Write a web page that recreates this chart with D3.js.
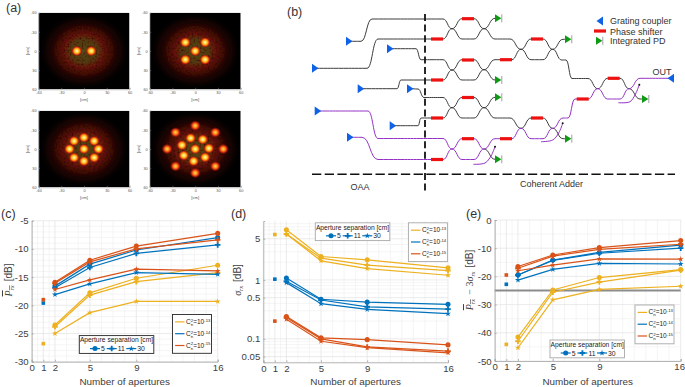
<!DOCTYPE html>
<html>
<head>
<meta charset="utf-8">
<script src="https://cdn.jsdelivr.net/npm/d3@7"></script>
<style>
  html, body { margin: 0; padding: 0; background: #fff; }
  svg { display: block; font-family: "Liberation Sans", Arial, sans-serif; }
  .grid-major { stroke: #e2e2e2; stroke-width: 0.7; }
  .grid-minor { stroke: #efefef; stroke-width: 0.6; }
</style>
</head>
<body>
<svg id="fig" width="685" height="387"></svg>
<script>
// ---- data: beam spots, panel (a), in cm
var spotTicks = [-60, -30, 0, 30, 60];
var spotsTwo = [[-9.5, 0], [9.5, 0]];
var spotsFive = [[0, 0], [-13, -13.5], [13, -13.5], [-13, 13.5], [13, 13.5]];
var spotsNine = [[0, 0], [0, -18], [13.5, -12.5], [19, 0], [13.5, 13.5], [0, 19], [-13, 13.5], [-19, 0], [-13, -12.5]];
var spotsInner = [[0, 0], [-6, -17], [10, -15], [18, -1], [13, 13], [-2, 19], [-15, 10], [-17.5, -6]];
var spotsOuter = [[0, -36.5], [26.5, -26], [37, 0], [26.5, 27], [0, 37.5], [-26, 27], [-37, 0], [-26, -26]];

// ---- data: curves, panels (c) (d) (e)
var apertures = [2, 5, 9, 16];
var xTicks = [0, 1, 2, 5, 9, 16];
var separations = ['5', '11', '30'];
var turbulence = ['-13', '-14', '-15'];

var powerStrong = [[-23.5, -17.8, -15.2, -12.9], [-23.8, -18.2, -15.8, -14.2], [-25, -21.3, -19.3, -19.3]];
var powerMedium = [[-16.6, -12.7, -10.2, -8.0], [-16.9, -13.3, -10.8, -9.3], [-18.1, -16.2, -14.2, -14.5]];
var powerWeak = [[-15.9, -12, -9.5, -7.25], [-16.1, -12.3, -10, -8.4], [-17.2, -15.5, -13.6, -13.9]];
var powerSingle = [-26.8, -19.6, -19];

var sigmaStrong = [[7.1, 2.5, 2.19, 1.6], [6, 2.34, 1.78, 1.44], [6, 2.11, 1.56, 1.2]];
var sigmaMedium = [[1.08, 0.47, 0.42, 0.385], [0.95, 0.456, 0.35, 0.32], [0.9, 0.395, 0.316, 0.267]];
var sigmaWeak = [[0.24, 0.104, 0.097, 0.079], [0.23, 0.1, 0.073, 0.062], [0.216, 0.091, 0.071, 0.058]];
var sigmaSingle = [5.9, 1.03, 0.2];

var marginStrong = [[-41.5, -24.8, -20.4, -17.6], [-43, -25.6, -22, -17.8], [-45.3, -28.3, -24.6, -23.5]];
var marginMedium = [[-19.5, -14.2, -11.5, -8.9], [-19.5, -14.3, -11.8, -10], [-21.3, -17.5, -15.4, -15.6]];
var marginWeak = [[-16.5, -12.4, -9.8, -7.3], [-17.1, -12.8, -10.4, -8.6], [-18, -16, -13.8, -13.9]];
var marginSingle = [-44.1, -22.8, -19.5];
var marginLimit = -25;

// ---- data: photonic circuit, panel (b), in diagram units
var inCouplers = [[349, 41.3], [315, 68.3], [390, 48.7], [360.7, 88.7], [410, 88.7], [317.7, 111], [350, 137.3], [392.7, 125.7]];
var outCoupler = [[671, 78.3]];
var shifters = [[431, 39], [431, 80], [431, 118], [431, 159.5], [462, 18.7], [462, 60], [462, 97.5], [462, 138.7],
  [500, 59.7], [500, 138.7], [531, 39], [531, 118], [576.7, 99], [607.7, 78.3]];
var detectors = [[498, 18.3], [498, 80], [498, 97.3], [498, 159.3], [568, 39.3], [568, 138.7], [645, 99]];
var darkRoutes = [
  [[349, 41.3], [361, 41.3], [372, 19], [443, 19], [452, 28.7], [462, 39], [474, 39], [484, 28.7], [495, 18.3], [498, 18.3]],
  [[315, 68.3], [367, 68.3], [378, 39], [443, 39], [452, 28.7], [462, 18.7], [474, 18.7], [484, 28.7], [495, 39], [510, 39],
    [521, 49.3], [531, 59.7], [543, 59.7], [552.7, 49.3], [561.7, 60], [566, 60], [572, 78.5], [588, 78.5], [597.7, 88.7],
    [607.7, 78.3], [620, 78.3], [629, 88.7], [640, 99], [645, 99]],
  [[390, 48.7], [416, 48.7], [421, 59.7], [443, 59.7], [452, 70], [462, 80], [474, 80], [484, 69.7], [495, 80], [498, 80]],
  [[360.7, 88.7], [397, 88.7], [401, 80], [443, 80], [452, 70], [462, 59.7], [474, 59.7], [484, 69.7], [495, 59.7], [511.7, 59.7],
    [521, 49.3], [531, 39], [543, 39], [552.7, 49.3], [563, 39.3], [568, 39.3]],
  [[410, 88.7], [418, 89], [424, 97.5], [443, 97.5], [452, 107.7], [462, 118], [474, 118], [484, 107.7], [495, 97.3], [498, 97.3]],
  [[392.7, 125.7], [418, 125.7], [421, 118], [443, 118], [452, 107.7], [462, 97.5], [474, 97.5], [484, 107.7], [495, 118], [510, 118],
    [521, 128.3], [531, 118], [543, 118], [552.7, 128.3], [563, 138.7], [568, 138.7]],
  [[484, 149], [495, 159.3], [498, 159.3]]
];
var purpleRoutes = [
  [[317.7, 111], [368, 111], [378, 138.5], [443, 138.5], [452, 149], [462, 159.5], [474, 159.5], [484, 149]],
  [[350, 137.3], [362, 137.3], [378, 159.5], [443, 159.5], [452, 149], [462, 138.7], [474, 138.7], [484, 149], [495, 138.7], [511.7, 138.7],
    [521, 128.3], [531, 138.7], [543, 138.7], [552.7, 128.3], [563, 118], [568, 118], [575, 99], [588, 99], [597.7, 88.7],
    [607.7, 99], [620, 99], [629, 88.7], [640, 78.3], [671, 78.3]]
];
var tapCurves = [
  [[473.3, 164.3], [485, 163], [491, 156], [495, 146.7]],
  [[541, 141.7], [552.7, 140], [558.7, 133], [562.7, 123.3]],
  [[618.3, 102.7], [630, 101.7], [635.5, 94], [639.3, 84.7]]
];

// ---- palette
var yellow = '#EDB120', blue = '#0072BD', orange = '#D95319';
var seriesColors = [yellow, blue, orange];
var textColor = '#404040';

var svg = d3.select('#fig');
var defs = svg.append('defs');

function addGradient(id, stops) {
  var g = defs.append('radialGradient').attr('id', id);
  stops.forEach(function (s) {
    g.append('stop').attr('offset', s[0]).attr('stop-color', s[1]).attr('stop-opacity', s[2]);
  });
}

addGradient('glow-red', [[0, '#7a1a0a', 1], [0.55, '#6a140a', 0.95], [0.8, '#3c0a06', 0.75], [1, '#000', 0]]);
addGradient('glow-green', [[0, '#46581a', 0.85], [0.65, '#424a10', 0.7], [1, '#6a140a', 0]]);
addGradient('spot-hot', [[0, '#fffbd0', 1], [0.25, '#ffe050', 1], [0.5, '#ff9a10', 1], [0.72, '#e03010', 0.85], [1, '#800000', 0]]);
addGradient('spot-warm', [[0, '#ffd860', 1], [0.3, '#ff9a20', 1], [0.58, '#e83a12', 0.95], [1, '#800000', 0]]);

var speckle = defs.append('filter').attr('id', 'speckle').attr('x', 0).attr('y', 0).attr('width', 1).attr('height', 1);
speckle.append('feTurbulence').attr('type', 'fractalNoise').attr('baseFrequency', 0.5).attr('numOctaves', 2).attr('seed', 4).attr('result', 'n');
speckle.append('feColorMatrix').attr('in', 'n').attr('type', 'matrix')
  .attr('values', '0 0 0 0 0  0 0 0 0 0  0 0 0 0 0  0 0 0 2.4 -0.35').attr('result', 'a');
speckle.append('feComposite').attr('in', 'SourceGraphic').attr('in2', 'a').attr('operator', 'in');

function panelLabel(text, x, y) {
  svg.append('text').attr('x', x).attr('y', y).attr('font-size', 12.5).attr('fill', '#333').text(text);
}

// ---- panel (a)
function drawBeam(id, box, hot, warm) {
  var x = d3.scaleLinear().domain([-60, 60]).range([box.x, box.x + 91]);
  var y = d3.scaleLinear().domain([-60, 60]).range([box.y, box.y + 76.6]);
  var g = svg.append('g');

  defs.append('clipPath').attr('id', id).append('rect')
    .attr('x', box.x).attr('y', box.y).attr('width', 91).attr('height', 76.6);

  var plot = g.append('g').attr('clip-path', 'url(#' + id + ')');
  plot.append('rect').attr('x', box.x).attr('y', box.y).attr('width', 91).attr('height', 76.6).attr('fill', '#000');

  var rx = function (cm) { return x(cm) - x(0); };
  var ry = function (cm) { return y(cm) - y(0); };

  plot.append('ellipse').attr('cx', x(0)).attr('cy', y(0)).attr('rx', rx(60)).attr('ry', ry(60)).attr('fill', 'url(#glow-red)').attr('opacity', 0.5);
  plot.append('ellipse').attr('cx', x(0)).attr('cy', y(0)).attr('rx', rx(48)).attr('ry', ry(48)).attr('fill', 'url(#glow-red)').attr('filter', 'url(#speckle)');
  plot.append('ellipse').attr('cx', x(0)).attr('cy', y(0)).attr('rx', rx(29)).attr('ry', ry(29)).attr('fill', 'url(#glow-green)').attr('filter', 'url(#speckle)');

  plot.selectAll('.hot').data(hot).enter().append('ellipse').attr('class', 'hot')
    .attr('cx', function (d) { return x(d[0]); }).attr('cy', function (d) { return y(d[1]); })
    .attr('rx', rx(7.5)).attr('ry', ry(8.5)).attr('fill', 'url(#spot-hot)');
  plot.selectAll('.warm').data(warm).enter().append('ellipse').attr('class', 'warm')
    .attr('cx', function (d) { return x(d[0]); }).attr('cy', function (d) { return y(d[1]); })
    .attr('rx', rx(7.5)).attr('ry', ry(8.5)).attr('fill', 'url(#spot-warm)');

  var xAxis = d3.axisBottom(x).tickValues(spotTicks).tickSize(-1.5).tickPadding(2).tickFormat(String);
  var yAxis = d3.axisLeft(y).tickValues(spotTicks).tickSize(-1.5).tickPadding(2).tickFormat(String);
  var ax = g.append('g').attr('transform', 'translate(0,' + (box.y + 76.6) + ')').call(xAxis);
  var ay = g.append('g').attr('transform', 'translate(' + box.x + ',0)').call(yAxis);
  [ax, ay].forEach(function (a) {
    a.selectAll('text').attr('font-size', 3.8).attr('fill', '#555').attr('font-family', 'inherit');
    a.selectAll('path,line').attr('stroke', '#888').attr('stroke-width', 0.5);
  });
  g.append('text').attr('x', x(0)).attr('y', box.y + 76.6 + 12).attr('text-anchor', 'middle')
    .attr('font-size', 4.2).attr('fill', '#555').text('[cm]');
  g.append('text').attr('transform', 'translate(' + (box.x - 10) + ',' + y(0) + ') rotate(-90)')
    .attr('text-anchor', 'middle').attr('font-size', 4.2).attr('fill', '#555').text('[cm]');
}

drawBeam('beam-1', { x: 38.5, y: 12.7 }, spotsTwo, []);
drawBeam('beam-2', { x: 149.7, y: 12.7 }, spotsFive, []);
drawBeam('beam-3', { x: 38.5, y: 110.7 }, spotsNine, []);
drawBeam('beam-4', { x: 149.7, y: 110.7 }, spotsInner, spotsOuter);
panelLabel('(a)', 6, 11.5);

// ---- panel (b)
var schemX = d3.scaleIdentity(), schemY = d3.scaleIdentity();
var route = d3.line().x(function (d) { return schemX(d[0]); }).y(function (d) { return schemY(d[1]); }).curve(d3.curveBumpX);
var tap = d3.line().x(function (d) { return schemX(d[0]); }).y(function (d) { return schemY(d[1]); }).curve(d3.curveCatmullRom);

var schem = svg.append('g');

schem.selectAll('.dark').data(darkRoutes).enter().append('path').attr('class', 'dark')
  .attr('d', route).attr('fill', 'none').attr('stroke', '#3c3c3c').attr('stroke-width', 1);
schem.selectAll('.purple').data(purpleRoutes).enter().append('path').attr('class', 'purple')
  .attr('d', route).attr('fill', 'none').attr('stroke', '#9432c4').attr('stroke-width', 1);
schem.selectAll('.tap').data(tapCurves).enter().append('path').attr('class', 'tap')
  .attr('d', tap).attr('fill', 'none').attr('stroke', '#9432c4').attr('stroke-width', 1);
schem.selectAll('.tapEnd').data(tapCurves).enter().append('circle').attr('class', 'tapEnd')
  .attr('cx', function (d) { return schemX(d[3][0]); }).attr('cy', function (d) { return schemY(d[3][1]); })
  .attr('r', 1).attr('fill', '#111');

schem.append('line').attr('x1', 425).attr('x2', 425).attr('y1', 14).attr('y2', 193)
  .attr('stroke', '#111').attr('stroke-width', 1.8).attr('stroke-dasharray', '7,3.6');
schem.append('line').attr('x1', 312).attr('x2', 675).attr('y1', 174.3).attr('y2', 174.3)
  .attr('stroke', '#111').attr('stroke-width', 1.5).attr('stroke-dasharray', '9.3,3.4');

function coupler(sel, pts, dir) {
  sel.selectAll(null).data(pts).enter().append('path')
    .attr('transform', function (d) { return 'translate(' + schemX(d[0]) + ',' + schemY(d[1]) + ')'; })
    .attr('d', dir > 0 ? 'M-3,-4.5L3.5,0L-3,4.5Z' : 'M3,-4.5L-3.5,0L3,4.5Z')
    .attr('fill', '#0f62e6');
}
function phase(sel, pts) {
  sel.selectAll(null).data(pts).enter().append('rect')
    .attr('x', function (d) { return schemX(d[0]); }).attr('y', function (d) { return schemY(d[1]) - 1.6; })
    .attr('width', 12).attr('height', 3.2).attr('fill', '#ee1111');
}
function detector(sel, pts) {
  var g = sel.selectAll(null).data(pts).enter().append('g')
    .attr('transform', function (d) { return 'translate(' + schemX(d[0]) + ',' + schemY(d[1]) + ')'; });
  g.append('path').attr('d', 'M-3,-4L3.4,0L-3,4Z').attr('fill', '#0f9a14');
  g.append('line').attr('x1', 3.8).attr('x2', 3.8).attr('y1', -4).attr('y2', 4).attr('stroke', '#777').attr('stroke-width', 0.7);
}

coupler(schem, inCouplers, 1);
coupler(schem, outCoupler, -1);
phase(schem, shifters);
detector(schem, detectors);

coupler(schem, [[600, 21]], -1);
phase(schem, [[594, 31]]);
detector(schem, [[599, 40.7]]);

var schemText = [['Grating coupler', 610, 24], ['Phase shifter', 610, 34.5], ['Integrated PD', 610, 43.5],
  ['OUT', 652.5, 74.5], ['OAA', 350.5, 190], ['Coherent Adder', 520, 187]];
schem.selectAll('.lbl').data(schemText).enter().append('text').attr('class', 'lbl')
  .attr('x', function (d) { return d[1]; }).attr('y', function (d) { return d[2]; })
  .attr('font-size', 9).attr('fill', '#333').text(function (d) { return d[0]; });
panelLabel('(b)', 287, 16);

// ---- panels (c) (d) (e)
var markers = [
  d3.symbol().type(d3.symbolCircle).size(20),
  d3.symbol().type(d3.symbolCross).size(17),
  d3.symbol().type(d3.symbolStar).size(11)
];
var minorX = [0.5, 1.5, 3, 4, 6, 7, 8, 10, 11, 12, 13, 14, 15];

function drawCurves(opts) {
  var x = d3.scaleLinear().domain([0, 16]).range(opts.xRange);
  var y = opts.log ? d3.scaleLog().domain(opts.yDomain).range(opts.yRange)
    : d3.scaleLinear().domain(opts.yDomain).range(opts.yRange);
  var g = svg.append('g');

  g.selectAll('.mx').data(minorX).enter().append('line').attr('class', 'grid-minor')
    .attr('x1', x).attr('x2', x).attr('y1', opts.yRange[0]).attr('y2', opts.yRange[1]);
  g.selectAll('.my').data(opts.minorY).enter().append('line').attr('class', 'grid-minor')
    .attr('y1', y).attr('y2', y).attr('x1', opts.xRange[0]).attr('x2', opts.xRange[1]);
  g.selectAll('.gx').data(xTicks).enter().append('line').attr('class', 'grid-major')
    .attr('x1', x).attr('x2', x).attr('y1', opts.yRange[0]).attr('y2', opts.yRange[1]);
  g.selectAll('.gy').data(opts.yTicks).enter().append('line').attr('class', 'grid-major')
    .attr('y1', y).attr('y2', y).attr('x1', opts.xRange[0]).attr('x2', opts.xRange[1]);

  if (opts.limit !== undefined) {
    g.append('line').attr('x1', opts.xRange[0]).attr('x2', opts.xRange[1])
      .attr('y1', y(opts.limit)).attr('y2', y(opts.limit)).attr('stroke', '#8c8c8c').attr('stroke-width', 1.8);
  }

  var line = d3.line().x(function (d, i) { return x(apertures[i]); }).y(function (d) { return y(d); });

  opts.series.forEach(function (group, c) {
    group.forEach(function (vals, s) {
      g.append('path').attr('d', line(vals)).attr('fill', 'none').attr('stroke', seriesColors[c]).attr('stroke-width', 1.2);
      g.selectAll(null).data(vals).enter().append('path')
        .attr('transform', function (d, i) { return 'translate(' + x(apertures[i]) + ',' + y(d) + ')'; })
        .attr('d', markers[s]()).attr('fill', seriesColors[c]);
    });
    g.append('rect').attr('x', x(1) - 1.8).attr('y', y(opts.single[c]) - 1.8)
      .attr('width', 3.6).attr('height', 3.6).attr('fill', seriesColors[c]);
  });

  var ax = g.append('g').attr('transform', 'translate(0,' + opts.yRange[0] + ')')
    .call(d3.axisBottom(x).tickValues(xTicks).tickSize(-2).tickPadding(2.5).tickFormat(String));
  var ay = g.append('g').attr('transform', 'translate(' + opts.xRange[0] + ',0)')
    .call(d3.axisLeft(y).tickValues(opts.yTicks).tickSize(-2).tickPadding(3).tickFormat(String));
  [ax, ay].forEach(function (a) {
    a.selectAll('text').attr('font-size', 9.6).attr('fill', textColor).attr('font-family', 'inherit');
    a.selectAll('path,line').attr('stroke', '#a4a4a4').attr('stroke-width', 0.8);
  });
  // keep the last tick label of the rightmost panel inside the window
  if (opts.lastTickShift) {
    ax.selectAll('text').filter(function (d) { return d === 16; }).attr('dx', opts.lastTickShift);
  }

  g.append('text').attr('x', (opts.xRange[0] + opts.xRange[1]) / 2).attr('y', 385)
    .attr('text-anchor', 'middle').attr('font-size', 9.9).attr('fill', textColor).text('Number of apertures');

  var title = g.append('text').attr('transform', 'translate(' + opts.titleX + ',280) rotate(-90)')
    .attr('text-anchor', 'middle').attr('font-size', 10).attr('fill', textColor);
  opts.title(title);

  sepLegend(g, opts.sepLegend.x, opts.sepLegend.y, opts.legendBorder);
  turbLegend(g, opts.turbLegend.x, opts.turbLegend.y, opts.legendBorder);
}

function sepLegend(parent, x0, y0, border) {
  var g = parent.append('g').attr('transform', 'translate(' + x0 + ',' + y0 + ')');
  g.append('rect').attr('width', 74.5).attr('height', 17.8).attr('fill', '#fff').attr('stroke', border).attr('stroke-width', 0.9);
  g.append('text').attr('x', 37.2).attr('y', 6.8).attr('text-anchor', 'middle').attr('font-size', 6.7)
    .attr('fill', '#222').text('Aperture separation [cm]');
  var items = [[15.7, 0], [32.4, 1], [52, 2]];
  items.forEach(function (it) {
    g.append('line').attr('x1', it[0] - 5).attr('x2', it[0] + 5).attr('y1', 13).attr('y2', 13).attr('stroke', blue).attr('stroke-width', 1.2);
    g.append('path').attr('transform', 'translate(' + it[0] + ',13)').attr('d', markers[it[1]]()).attr('fill', blue);
    g.append('text').attr('x', it[0] + 6).attr('y', 15.5).attr('font-size', 6.8).attr('fill', '#222').text(separations[it[1]]);
  });
}

function turbLegend(parent, x0, y0, border) {
  var g = parent.append('g').attr('transform', 'translate(' + x0 + ',' + y0 + ')');
  g.append('rect').attr('width', 39).attr('height', 38.8).attr('fill', '#fff').attr('stroke', border).attr('stroke-width', 0.9);
  turbulence.forEach(function (t, i) {
    var yy = 7.4 + i * 11.8;
    g.append('line').attr('x1', 2.6).attr('x2', 12).attr('y1', yy).attr('y2', yy)
      .attr('stroke', seriesColors[i]).attr('stroke-width', 1.2);
    var txt = g.append('text').attr('x', 13.5).attr('y', yy + 2).attr('font-size', 6.5).attr('fill', '#222');
    txt.append('tspan').text('C');
    txt.append('tspan').attr('dy', -2.2).attr('font-size', 4.4).text('2');
    txt.append('tspan').attr('dx', -2.4).attr('dy', 4.2).attr('font-size', 4.4).text('n');
    txt.append('tspan').attr('dy', -2).text('=10');
    txt.append('tspan').attr('dy', -2.2).attr('font-size', 4.2).text(t);
  });
}

function rxLabel(t, base) {
  t.append('tspan').attr('font-family', '"Liberation Serif", serif').attr('font-style', 'italic').text(base);
  t.append('tspan').attr('font-family', '"Liberation Serif", serif').attr('font-style', 'italic')
    .attr('font-size', 6).attr('dy', 2).text('rx');
}

var logMinor = [0.04, 0.06, 0.07, 0.08, 0.09, 0.2, 0.3, 0.4, 0.6, 0.7, 0.8, 0.9, 2, 3, 4, 6, 7, 8, 9];

drawCurves({
  xRange: [31.7, 217.7], yRange: [361.7, 220.7], yDomain: [-30, -5],
  yTicks: [-30, -25, -20, -15, -10, -5],
  minorY: d3.range(-29, -5).filter(function (v) { return v % 5 !== 0; }),
  series: [powerStrong, powerMedium, powerWeak], single: powerSingle,
  titleX: 12, legendBorder: '#262626',
  sepLegend: { x: 79.3, y: 335.6 }, turbLegend: { x: 172.5, y: 314.5 },
  title: function (t) {
    t.append('tspan').attr('text-decoration', 'overline').attr('font-family', '"Liberation Serif", serif')
      .attr('font-style', 'italic').text('P');
    t.append('tspan').attr('text-decoration', 'overline').attr('font-family', '"Liberation Serif", serif')
      .attr('font-style', 'italic').attr('font-size', 6).attr('dy', 2).text('rx');
    t.append('tspan').attr('dy', -2).attr('dx', 4).text('[dB]');
  }
});

drawCurves({
  xRange: [263.3, 448], yRange: [362.3, 221], yDomain: [0.04, 10], log: true,
  yTicks: [0.05, 0.1, 0.5, 1, 5],
  minorY: logMinor,
  series: [sigmaStrong, sigmaMedium, sigmaWeak], single: sigmaSingle,
  titleX: 241, legendBorder: '#a8a8a8',
  sepLegend: { x: 315.3, y: 222.8 }, turbLegend: { x: 408.4, y: 222.8 },
  title: function (t) {
    rxLabel(t, '\u03c3');
    t.append('tspan').attr('dy', -2).attr('dx', 4).text('[dB]');
  }
});

drawCurves({
  xRange: [494.7, 680.7], yRange: [361, 220], yDomain: [-50, 0],
  yTicks: [-50, -40, -30, -20, -10, 0],
  minorY: d3.range(-45, 0, 10),
  series: [marginStrong, marginMedium, marginWeak], single: marginSingle, limit: marginLimit,
  titleX: 473, legendBorder: '#a8a8a8', lastTickShift: -1.5,
  sepLegend: { x: 550, y: 340 }, turbLegend: { x: 635, y: 305 },
  title: function (t) {
    t.append('tspan').attr('text-decoration', 'overline').attr('font-family', '"Liberation Serif", serif')
      .attr('font-style', 'italic').text('P');
    t.append('tspan').attr('text-decoration', 'overline').attr('font-family', '"Liberation Serif", serif')
      .attr('font-style', 'italic').attr('font-size', 6).attr('dy', 2).text('rx');
    t.append('tspan').attr('dy', -2).attr('dx', 2).attr('font-family', '"Liberation Serif", serif').text(' \u2212 3');
    t.append('tspan').attr('font-family', '"Liberation Serif", serif').attr('font-style', 'italic').text('\u03c3');
    t.append('tspan').attr('font-family', '"Liberation Serif", serif').attr('font-style', 'italic')
      .attr('font-size', 6).attr('dy', 2).text('rx');
    t.append('tspan').attr('dy', -2).attr('dx', 4).text('[dB]');
  }
});

panelLabel('(c)', 1, 218);
panelLabel('(d)', 231, 218);
panelLabel('(e)', 466, 218);
</script>
</body>
</html>
